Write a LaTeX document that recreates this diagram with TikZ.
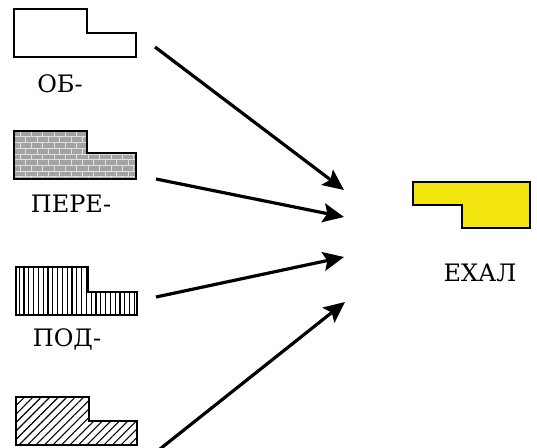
\documentclass[tikz,border=0pt]{standalone}
\usepackage{fontspec}
\setmainfont{DejaVu Serif}
\usetikzlibrary{arrows.meta,patterns,patterns.meta}
\definecolor{ylw}{RGB}{243,229,16}
\tikzset{
  part/.style={draw=black,line width=2.6pt,line join=miter},
  lbl/.style={font=\fontsize{24}{24}\selectfont,inner sep=0pt},
  arr/.style={line width=3.2pt,-{Stealth[length=21pt,width=19pt,inset=4pt]}},
}
\begin{document}
\begin{tikzpicture}[x=1pt,y=-1pt]
\useasboundingbox (0,0) rectangle (537,447);
% ОБ-
\draw[part,fill=white] (14,9) -- (87,9) -- (87,33) -- (136,33) -- (136,57) -- (14,57) -- cycle;
\node[lbl] (ob) at (60,84) {ОБ-};
% ПЕРЕ-
\fill[gray!72] (14,131) -- (87,131) -- (87,153) -- (136,153) -- (136,179) -- (14,179) -- cycle;
\fill[pattern=bricks,pattern color=white!75!gray] (15,132) -- (86,132) -- (86,154) -- (135,154) -- (135,178) -- (15,178) -- cycle;
\draw[part] (14,131) -- (87,131) -- (87,153) -- (136,153) -- (136,179) -- (14,179) -- cycle;
\node[lbl] (pere) at (71,204) {ПЕРЕ-};
% ПОД-
\draw[part,pattern={Lines[angle=90,distance=4.8pt,line width=1.2pt]}] (16,267) -- (88,267) -- (88,292) -- (137,292) -- (137,315) -- (16,315) -- cycle;
\node[lbl] (pod) at (67,339) {ПОД-};
% hatched
\draw[part,pattern={Lines[angle=45,distance=6pt,line width=1.1pt]}] (16,397) -- (89,397) -- (89,421) -- (137,421) -- (137,445) -- (16,445) -- cycle;
% ЕХАЛ
\draw[part,fill=ylw] (413,182) -- (530,182) -- (530,228) -- (462,228) -- (462,205) -- (413,205) -- cycle;
\node[lbl] (ehal) at (480,273) {ЕХАЛ};
% arrows
\coordinate (s1) at (155,47);
\coordinate (s2) at (156,179);
\coordinate (s3) at (156,297);
\coordinate (s4) at (160,449);
\coordinate (e1) at (344,190);
\coordinate (e2) at (344,217);
\coordinate (e3) at (344,257);
\coordinate (e4) at (345,302);
\draw[arr] (s1) -- (e1);
\draw[arr] (s2) -- (e2);
\draw[arr] (s3) -- (e3);
\draw[arr] (s4) -- (e4);
\end{tikzpicture}
\end{document}
